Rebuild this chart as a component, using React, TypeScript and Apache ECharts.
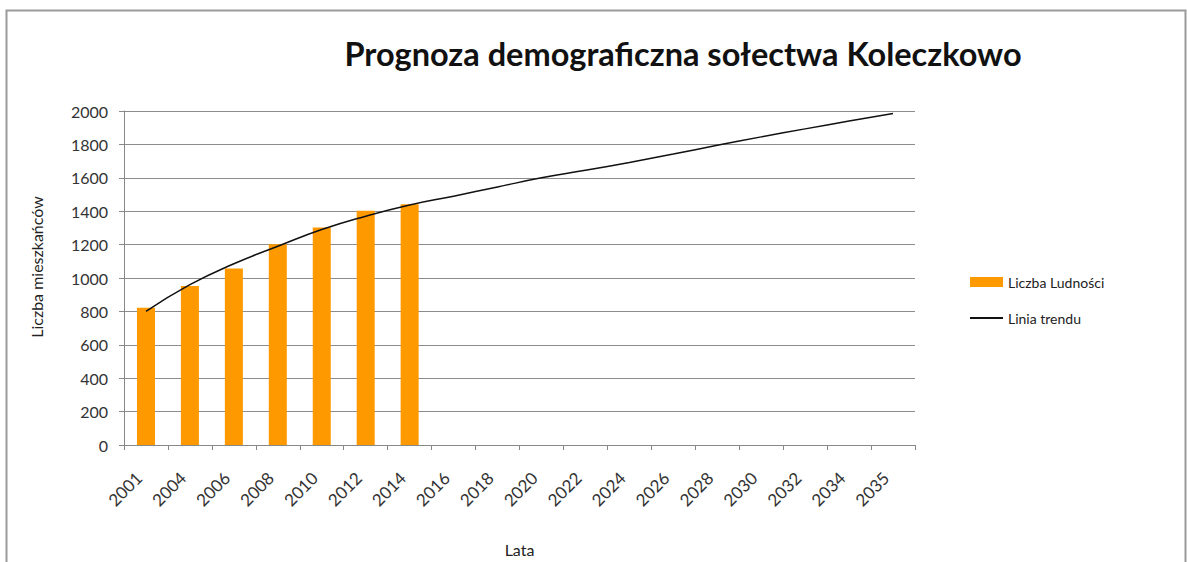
import React, { useEffect, useRef } from "react";
import * as echarts from "echarts";

const categories = ["2001", "2004", "2006", "2008", "2010", "2012", "2014", "2016", "2018", "2020", "2022", "2024", "2026", "2028", "2030", "2032", "2034", "2035"];
const population = [822, 952, 1057, 1202, 1302, 1402, 1442, null, null, null, null, null, null, null, null, null, null, null];
const trend = [800, 960, 1085, 1190, 1290, 1370, 1437, 1490, 1545, 1600, 1645, 1692, 1742, 1795, 1845, 1893, 1940, 1985];
const yTicks = [0, 2000, 200];

const FONT = "Lato";

export default function App() {
  const ref = useRef<HTMLDivElement>(null);
  useEffect(() => {
    if (!ref.current) return;
    const chart = echarts.init(ref.current, undefined, { renderer: "svg" });
    chart.setOption({
      animation: false,
      backgroundColor: "#ffffff",
      textStyle: { fontFamily: FONT },
      title: {
        text: "Prognoza demograficzna sołectwa Koleczkowo",
        left: 683,
        textAlign: "center",
        top: 37,
        padding: 0,
        textStyle: { fontFamily: FONT, fontSize: 32.5, fontWeight: "bold", color: "#111" },
      },
      graphic: [
        {
          type: "rect",
          shape: { x: 6.5, y: 10.5, width: 1179, height: 570 },
          style: { fill: "none", stroke: "#9a9a9a", lineWidth: 2 },
          silent: true,
        },
      ],
      legend: {
        orient: "vertical",
        left: 970,
        top: 275,
        padding: 0,
        itemGap: 22,
        itemWidth: 33,
        itemHeight: 10,
        textStyle: { fontFamily: FONT, fontSize: 14, color: "#222" },
        data: [
          { name: "Liczba Ludności", icon: "rect" },
          { name: "Linia trendu", icon: "path://M0,0 L33,0 L33,2 L0,2 Z" },
        ],
      },
      grid: { left: 124, right: 272, top: 111, bottom: 117, containLabel: false },
      xAxis: {
        type: "category",
        data: categories,
        boundaryGap: true,
        name: "Lata",
        nameLocation: "middle",
        nameGap: 96,
        nameTextStyle: { fontFamily: FONT, fontSize: 16, color: "#222" },
        axisLine: { lineStyle: { color: "#888", width: 1 } },
        axisTick: { show: true, length: 5, alignWithLabel: false, lineStyle: { color: "#888" } },
        axisLabel: { rotate: 45, fontSize: 17, color: "#333", fontFamily: FONT, margin: 23, interval: 0, padding: [0, 10, 0, 0] },
        splitLine: { show: false },
      },
      yAxis: {
        type: "value",
        min: yTicks[0],
        max: yTicks[1],
        interval: yTicks[2],
        name: "Liczba mieszkańców",
        nameLocation: "middle",
        nameGap: 80,
        nameTextStyle: { fontFamily: FONT, fontSize: 16, color: "#222", padding: [0, 0, 0, 22] },
        axisLine: { show: true, lineStyle: { color: "#888", width: 1 } },
        axisTick: { show: true, length: 5, lineStyle: { color: "#888" } },
        axisLabel: { fontSize: 16, color: "#333", fontFamily: FONT, margin: 16, formatter: (v: number) => String(v) },
        splitLine: { show: true, lineStyle: { color: "#8c8c8c", width: 1 } },
      },
      series: [
        {
          name: "Liczba Ludności",
          type: "bar",
          data: population,
          barWidth: "41%",
          itemStyle: { color: "#FF9900" },
        },
        {
          name: "Linia trendu",
          type: "line",
          data: trend,
          smooth: true,
          symbol: "none",
          lineStyle: { color: "#111", width: 1.5 },
          itemStyle: { color: "#111" },
          z: 5,
        },
      ],
    });
    return () => chart.dispose();
  }, []);
  return <div ref={ref} style={{ position: "absolute", left: 0, top: 0, width: 1187, height: 562 }} />;
}
